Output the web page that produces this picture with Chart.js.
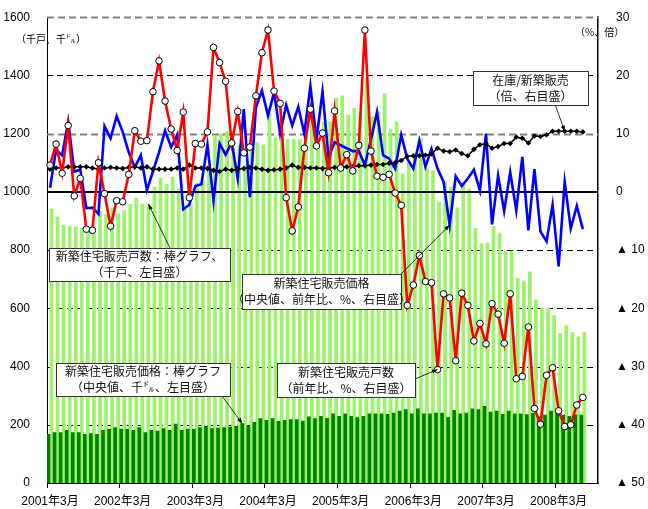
<!DOCTYPE html>
<html>
<head>
<meta charset="utf-8">
<script src="https://cdn.jsdelivr.net/npm/chart.js@4.4.1/dist/chart.umd.min.js"></script>
<style>
  html, body { margin: 0; padding: 0; background: #fff; }
  canvas { display: block; }
</style>
</head>
<body>
<canvas id="chart" width="648" height="509"></canvas>
<script>
// 月次 2001年3月〜2008年9月（データは2008年7月まで）
const months = [];
for (let y = 2001, m = 3; months.length < 91; m++) {
  if (m > 12) { m = 1; y++; }
  months.push(`${y}年${m}月`);
}
const tickLabels = ["2001年3月", "2002年3月", "2003年3月", "2004年3月", "2005年3月", "2006年3月", "2007年3月", "2008年3月"];
const leftTicks = [0, 200, 400, 600, 800, 1000, 1200, 1400, 1600];
const rightTicks = [30, 20, 10, 0, -10, -20, -30, -40, -50];

// 新築住宅販売戸数（千戸、左目盛）
const salesUnits = [
  941, 913, 886, 882, 880, 876, 868, 857, 933, 922,
  945, 925, 936, 956, 979, 958, 958, 1017, 1047, 1027,
  1051, 1010, 940, 960, 1030, 1040, 1090, 1193, 1199, 1207,
  1150, 1160, 1090, 1162, 1169, 1162, 1270, 1186, 1180, 1180,
  1180, 1180, 1190, 1309, 1200, 1241, 1241, 1321, 1330, 1265,
  1286, 1271, 1389, 1258, 1275, 1338, 1213, 1241, 1062, 1104,
  1133, 1184, 1081, 1072, 964, 1036, 1017, 945, 1030, 1010,
  876, 822, 825, 882, 857, 795, 797, 703, 694, 725,
  629, 600, 600, 575, 514, 540, 517, 502, 517
];
// 新築住宅販売価格（中央値、千ドル、左目盛）
const medianPrice = [
  167, 173, 173, 181, 173, 173, 167, 170, 167, 181,
  185, 190, 185, 185, 181, 190, 173, 181, 178, 187,
  181, 202, 181, 185, 185, 190, 195, 187, 189, 190,
  192, 195, 204, 195, 208, 221, 215, 221, 212, 215,
  218, 218, 213, 227, 221, 229, 222, 238, 229, 238,
  229, 225, 229, 238, 238, 238, 236, 240, 247, 252,
  238, 255, 238, 238, 240, 240, 225, 250, 238, 240,
  255, 252, 263, 244, 247, 236, 247, 238, 238, 235,
  240, 227, 233, 247, 244, 233, 229, 235, 233
];
// 新築住宅販売戸数 前年比（%、右目盛）
const salesYoY = [
  4.6, 8.2, 3.2, 11.4, -0.7, 2.3, -6.4, -6.6, 5.0, -0.3,
  -5.9, -1.5, -1.7, 3.0, 10.5, 8.7, 8.8, 17.2, 22.5, 15.6,
  10.8, 7.1, 13.7, -1.0, 8.3, 8.2, 10.3, 24.8, 22.2, 19.0,
  8.4, 13.8, 6.7, 7.7, 16.5, 23.9, 27.8, 17.3, 15.2, -1.0,
  -6.7, -2.6, 7.5, 14.2, 7.9, 10.1, 3.3, 13.9, 4.1, 6.4,
  3.6, 8.0, 27.8, 7.0, 2.7, 2.5, 3.0, -0.2, -2.3, -19.5,
  -16.0, -10.9, -15.4, -15.6, -30.5, -17.5, -18.2, -29.0, -17.4, -19.5,
  -25.6, -22.6, -26.1, -19.2, -21.0, -26.0, -17.5, -32.1, -31.7, -23.2,
  -37.2, -39.9, -31.5, -30.2, -37.6, -40.3, -40.0, -36.6, -35.3
];
// 新築住宅販売価格 前年比（%、右目盛）
const priceYoY = [
  0.7, 7.2, 6.3, 12.1, 3.5, 3.8, -2.8, -2.7, -3.8, 11.3,
  9.2, 13.0, 10.3, 6.8, 4.2, 6.3, 0.3, 3.5, 6.8, 10.5,
  7.7, 9.8, -3.0, -2.2, 1.0, 1.3, 8.1, -1.5, 8.3, 6.4,
  8.5, 2.3, 14.2, -0.9, 14.5, 17.4, 13.1, 17.1, 10.0, 14.9,
  11.4, 14.6, 10.0, 18.2, 9.0, 17.2, 5.9, 8.5, 8.0, 7.5,
  7.0, 7.0, 4.6, 9.0, 13.7, 6.3, 5.7, 4.0, 9.8, 5.7,
  4.0, 8.8, 4.3, 7.4, 4.0, 1.7, -5.7, 2.7, 1.0, 2.3,
  3.8, 0.2, 10.0, -5.6, 2.8, -3.3, 3.4, -3.2, 6.0, -6.6,
  3.9, -6.8, -8.5, -2.2, -12.8, 1.7, -6.3, -2.4, -6.4
];
// 在庫／新築販売（倍、右目盛）
const invRatio = [
  3.9, 4.1, 4.1, 4.3, 4.3, 4.3, 4.3, 4.1, 3.9, 4.1,
  4.2, 4.1, 4.0, 4.2, 4.3, 4.1, 4.3, 3.9, 3.9, 3.9,
  3.9, 4.1, 3.9, 4.6, 4.1, 4.1, 4.0, 3.7, 3.5, 3.9,
  3.7, 3.9, 4.0, 4.2, 4.1, 3.9, 3.7, 3.8, 3.9, 4.1,
  4.6, 4.2, 4.2, 4.1, 4.1, 4.0, 4.1, 4.2, 4.2, 4.3,
  4.3, 4.5, 4.5, 4.6, 4.7, 4.7, 4.9, 5.0, 5.4, 6.1,
  6.2, 6.2, 6.3, 6.5, 7.5, 7.0, 6.9, 7.2, 6.6, 6.2,
  7.3, 8.1, 8.3, 7.5, 7.8, 8.3, 8.3, 9.4, 9.2, 8.4,
  9.6, 9.5, 9.8, 10.4, 10.4, 10.4, 10.4, 10.4, 10.3
];

const FONT = 'Liberation Sans, "Noto Sans CJK JP", sans-serif';
const JP = '"Noto Sans CJK JP", sans-serif';
const LIGHT = "#9cf26a";
const DARK = "#008000";

// 注記ボックス（左上座標・幅・高さ・文字）と矢印の先（データ位置）
const notes = [
  { box: [473, 71, 115, 34], lines: ["在庫/新築販売", "（倍、右目盛）"], from: [555, 104], to: { axis: "y1", i: 85, v: invRatio[85] } },
  { box: [49, 248, 181, 33], lines: ["新築住宅販売戸数：棒グラフ、", "（千戸、左目盛）"], from: [170, 248], to: { axis: "y", i: 16, v: salesUnits[16], bar: 1 } },
  { box: [242, 274, 159, 35], lines: ["新築住宅販売価格", "（中央値、前年比、%、右目盛）"], from: [400, 275], to: { axis: "y1", i: 66, v: priceYoY[66] } },
  { box: [56, 363, 174, 33], lines: ["新築住宅販売価格：棒グラフ", "（中央値、千㌦、左目盛）"], from: [222, 396], to: { axis: "y", i: 32, v: medianPrice[32], bar: 0 } },
  { box: [277, 363, 138, 34], lines: ["新築住宅販売戸数", "（前年比、%、右目盛）"], from: [415, 379], to: { axis: "y1", i: 64, v: salesYoY[64] } },
];

function arrow(ctx, x1, y1, x2, y2){
  ctx.beginPath();
  ctx.moveTo(x1, y1);
  ctx.lineTo(x2, y2);
  ctx.stroke();
  const a = Math.atan2(y2 - y1, x2 - x1);
  ctx.beginPath();
  ctx.moveTo(x2, y2);
  ctx.lineTo(x2 - 6 * Math.cos(a - 0.35), y2 - 6 * Math.sin(a - 0.35));
  ctx.lineTo(x2 - 6 * Math.cos(a + 0.35), y2 - 6 * Math.sin(a + 0.35));
  ctx.closePath();
  ctx.fill();
}

const decor = {
  id: "decor",
  beforeDatasetsDraw(chart){
    const { ctx, chartArea: a, scales } = chart;
    ctx.save();
    leftTicks.forEach(v => {
      if (v === 0 || v === 1000) return;
      const y = Math.round(scales.y.getPixelForValue(v)) + 0.5;
      const soft = v === 1200 || v === 1600;
      ctx.strokeStyle = soft ? "#808080" : "#000";
      ctx.lineWidth = soft ? 2 : 1;
      ctx.setLineDash(soft ? [7, 4] : [6, 4]);
      ctx.beginPath();
      ctx.moveTo(a.left, y);
      ctx.lineTo(a.right, y);
      ctx.stroke();
    });
    ctx.restore();
  },
  afterDatasetDraw(chart, args){
    if (args.index !== 1) return;
    // 右目盛のゼロ線（棒の上、折れ線の下）
    const { ctx, chartArea: a, scales } = chart;
    const y = scales.y1.getPixelForValue(0);
    ctx.save();
    ctx.strokeStyle = "#000";
    ctx.lineWidth = 2;
    ctx.beginPath();
    ctx.moveTo(a.left, y);
    ctx.lineTo(a.right, y);
    ctx.stroke();
    ctx.restore();
  },
  afterDraw(chart){
    const { ctx, scales } = chart;
    ctx.save();
    ctx.fillStyle = "#000";
    ctx.font = "10px " + JP;
    ctx.textBaseline = "middle";
    ctx.textAlign = "left";
    ctx.fillText("（千戸、千㌦）", 16, 39);
    ctx.fillText("（%、倍）", 575, 32);

    notes.forEach(n => {
      const [bx, by, bw, bh] = n.box;
      let tx = scales.x.getPixelForValue(n.to.i);
      if (n.to.bar !== undefined) {
        const meta = chart.getDatasetMeta(n.to.bar);
        tx = meta.data[n.to.i].x;
      }
      const ty = scales[n.to.axis].getPixelForValue(n.to.v);
      ctx.strokeStyle = "#000";
      ctx.fillStyle = "#000";
      ctx.lineWidth = 0.8;
      ctx.setLineDash([]);
      arrow(ctx, n.from[0], n.from[1], tx, ty);

      ctx.fillStyle = "#fff";
      ctx.fillRect(bx, by, bw, bh);
      ctx.strokeStyle = "#333";
      ctx.lineWidth = 1;
      ctx.strokeRect(bx + 0.5, by + 0.5, bw, bh);
      ctx.fillStyle = "#111";
      ctx.font = "12px " + JP;
      ctx.textAlign = "center";
      ctx.fillText(n.lines[0], bx + bw / 2, by + bh / 2 - 8);
      ctx.fillText(n.lines[1], bx + bw / 2, by + bh / 2 + 8);
    });
    ctx.restore();
  }
};

new Chart(document.getElementById("chart"), {
  type: "bar",
  data: {
    labels: months,
    datasets: [
      { type: "bar", label: "新築住宅販売価格", data: medianPrice, yAxisID: "y", backgroundColor: DARK,
        barPercentage: 1, categoryPercentage: 1, order: 4 },
      { type: "bar", label: "新築住宅販売戸数", data: salesUnits, yAxisID: "y", backgroundColor: LIGHT,
        barPercentage: 1, categoryPercentage: 1, order: 5 },
      { type: "line", label: "販売価格 前年比", data: priceYoY, yAxisID: "y1", borderColor: "#0000ff",
        borderWidth: 2.6, pointRadius: 0, tension: 0, order: 3 },
      { type: "line", label: "在庫/新築販売", data: invRatio, yAxisID: "y1", borderColor: "#000",
        borderWidth: 1.5, pointStyle: "rectRot", pointRadius: 2.8, pointBackgroundColor: "#000",
        pointBorderColor: "#000", pointBorderWidth: 0, tension: 0, order: 2 },
      { type: "line", label: "販売戸数 前年比", data: salesYoY, yAxisID: "y1", borderColor: "#ff0000",
        borderWidth: 2.6, pointRadius: 3.3, pointBackgroundColor: "#fff", pointBorderColor: "#000",
        pointBorderWidth: 1, tension: 0, order: 1 },
    ]
  },
  options: {
    responsive: false,
    animation: false,
    devicePixelRatio: 1,
    layout: { padding: { top: 15, left: 0, right: 0, bottom: 0 } },
    plugins: { legend: { display: false }, tooltip: { enabled: false } },
    scales: {
      x: {
        offset: true,
        grid: {
          offset: true, drawOnChartArea: false, drawTicks: true, tickLength: 5,
          color: c => (c.index % 12 === 0 ? "#000" : "rgba(0,0,0,0)"),
        },
        border: { display: true, color: "#000", width: 1 },
        ticks: {
          autoSkip: false, maxRotation: 0, minRotation: 0, padding: 6, color: "#000",
          font: { family: FONT, size: 12 },
          callback: (v, i) => (tickLabels.includes(months[i]) ? months[i] : ""),
        },
        afterFit: s => { s.height = 26; },
      },
      y: {
        position: "left", min: 0, max: 1600,
        afterBuildTicks: s => { s.ticks = leftTicks.map(v => ({ value: v })); },
        grid: { display: false },
        border: { display: true, color: "#000", width: 1 },
        ticks: { padding: 9, color: "#000", font: { family: FONT, size: 12 }, callback: v => String(v) },
        afterFit: s => { s.width = 47; },
      },
      y1: {
        position: "right", min: -50, max: 30,
        afterBuildTicks: s => { s.ticks = rightTicks.map(v => ({ value: v })); },
        grid: { display: false },
        border: { display: true, color: "#000", width: 1.5 },
        ticks: {
          padding: 10, color: "#000", font: { family: FONT, size: 12 },
          callback: v => (v < 0 ? "▲ " + (-v) : String(v)),
        },
        afterFit: s => { s.width = 50; },
      },
    },
  },
  plugins: [decor],
});
</script>
</body>
</html>
